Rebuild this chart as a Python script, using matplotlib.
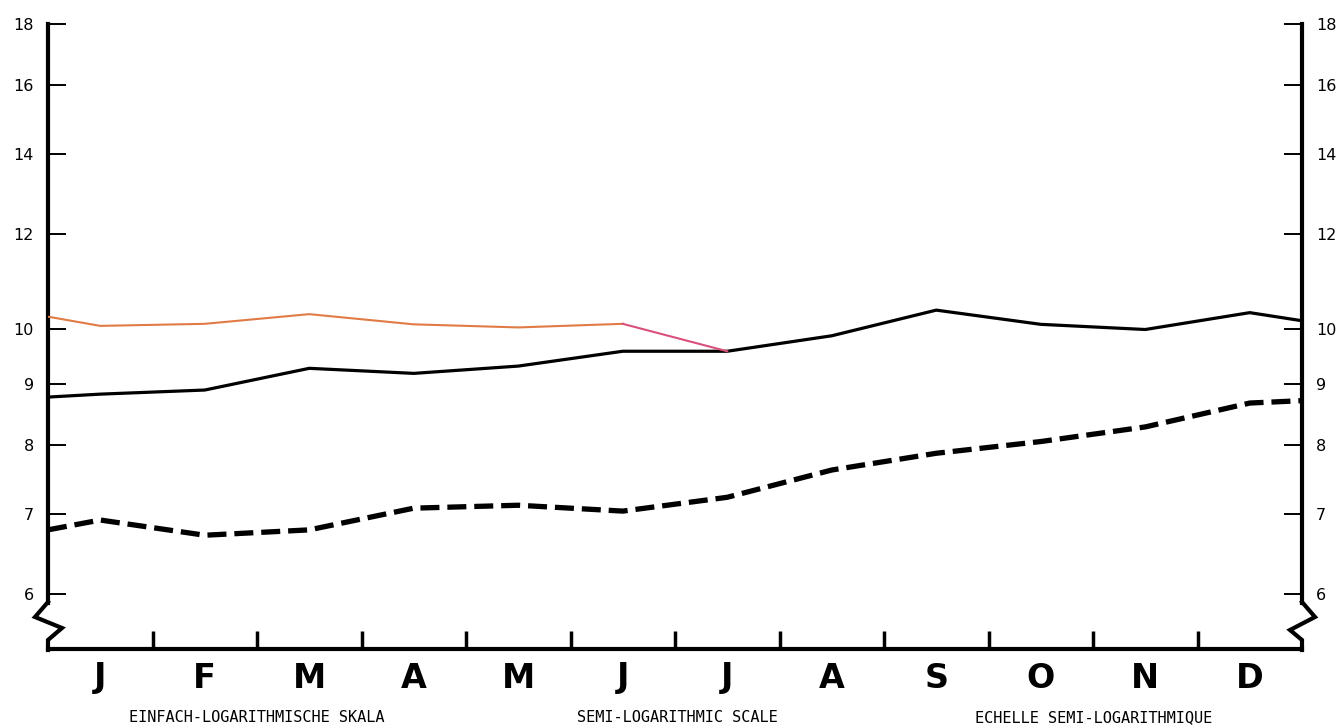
import numpy as np
import matplotlib.pyplot as plt
from matplotlib.lines import Line2D
from matplotlib.ticker import NullLocator, FixedLocator, FixedFormatter

months = ['J', 'F', 'M', 'A', 'M', 'J', 'J', 'A', 'S', 'O', 'N', 'D']
yticks = [6, 7, 8, 9, 10, 12, 14, 16, 18]

# values at the left edge, the twelve month centres, and the right edge
solid_start = 8.77
solid_vals = [8.82, 8.89, 9.27, 9.18, 9.31, 9.58, 9.58, 9.87, 10.37, 10.09, 9.99, 10.32]
solid_end = 10.16

orange_start = 10.24
orange_vals = [10.06, 10.10, 10.29, 10.09, 10.03, 10.10, 9.58]

dashed_start = 6.79
dashed_vals = [6.92, 6.72, 6.79, 7.08, 7.12, 7.04, 7.23, 7.62, 7.87, 8.05, 8.28, 8.67]
dashed_end = 8.71

captions = ['EINFACH-LOGARITHMISCHE SKALA', 'SEMI-LOGARITHMIC SCALE',
            'ECHELLE SEMI-LOGARITHMIQUE']

W, H = 1344, 726
fig = plt.figure(figsize=(W / 100, H / 100), dpi=100)
fig.patch.set_facecolor('white')


def px(x, y):
    return x / W, 1 - y / H


ax = fig.add_axes([48 / W, (H - 649) / H, 1254 / W, 625 / H])
ax.set_yscale('log')
ax.set_xlim(0, 12)
ax.set_ylim(5.397, 18)

centres = np.arange(len(months)) + 0.5
solid_x = np.concatenate([[0], centres, [12]])
solid_y = np.concatenate([[solid_start], solid_vals, [solid_end]])
dashed_y = np.concatenate([[dashed_start], dashed_vals, [dashed_end]])
orange_x = np.concatenate([[0], centres[:len(orange_vals)]])
orange_y = np.concatenate([[orange_start], orange_vals])

ax.plot(solid_x, solid_y, color='black', lw=2.3, solid_joinstyle='miter', zorder=3)
ax.plot(solid_x, dashed_y, color='black', lw=3.8, dashes=(3.6, 1.5),
        dash_capstyle='butt', zorder=3)
ax.plot(orange_x[:-1], orange_y[:-1], color='#e07b45', lw=1.5, zorder=4)
ax.plot(orange_x[-2:], orange_y[-2:], color='#d9507a', lw=1.5, zorder=4)

# spines
ax.spines['top'].set_visible(False)
for side in ['left', 'right']:
    ax.spines[side].set_linewidth(3)
    ax.spines[side].set_bounds(5.897, 18)
ax.spines['bottom'].set_linewidth(3)

# axis break zigzags
fig.add_artist(Line2D(*zip(*[px(48, 602), px(35, 617), px(62, 628), px(48, 640), px(48, 650)]),
                      color='black', lw=3, solid_joinstyle='miter'))
fig.add_artist(Line2D(*zip(*[px(1302, 602), px(1315, 617), px(1290, 630), px(1302, 640), px(1302, 650)]),
                      color='black', lw=3, solid_joinstyle='miter'))

# y ticks on both sides
ax.yaxis.set_major_locator(FixedLocator(yticks))
ax.yaxis.set_major_formatter(FixedFormatter([str(t) for t in yticks]))
ax.yaxis.set_minor_locator(NullLocator())
ax.tick_params(axis='y', which='major', direction='in', length=13, width=1.4,
               pad=10, labelsize=11.5, left=True, right=True,
               labelleft=True, labelright=True, colors='black')

# x ticks: boundaries as ticks, month letters in between
ax.set_xticks(np.arange(1, 12))
ax.set_xticklabels([])
ax.set_xticks(centres, minor=True)
ax.set_xticklabels(months, minor=True, fontsize=24, fontweight='bold')
ax.tick_params(axis='x', which='major', direction='in', length=13, width=2.5)
ax.tick_params(axis='x', which='minor', length=0, pad=9)

for text, xc in zip(captions, [257, 677, 1094]):
    fig.text(*px(xc, 722), text, ha='center', va='baseline',
             fontsize=11, family='DejaVu Sans Mono')

fig.savefig('out.png', dpi=100, facecolor='white')
